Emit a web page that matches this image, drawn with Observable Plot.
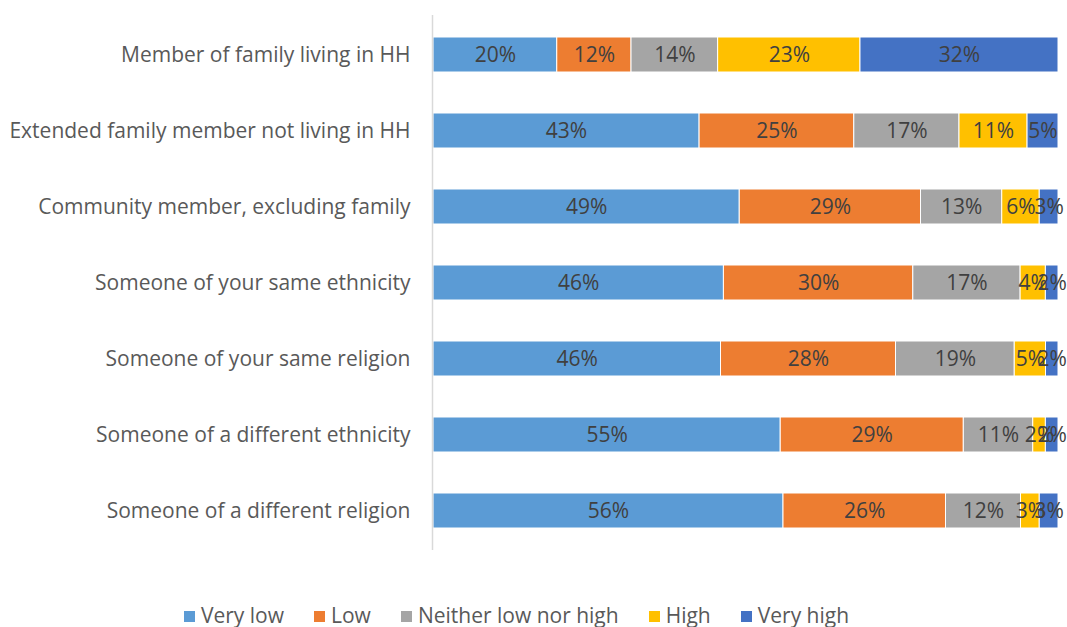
<!DOCTYPE html>
<html>
<head>
<meta charset="utf-8">
<script src="https://cdn.jsdelivr.net/npm/d3@7"></script>
<script src="https://cdn.jsdelivr.net/npm/@observablehq/plot@0.6"></script>
<style>
  body { margin: 0; background: #fff; font-family: "Open Sans", sans-serif; overflow: hidden; }
  #legend { display: flex; justify-content: center; gap: 30px; font-size: 21px; color: #595959; margin-left: -34px; line-height: 26px; margin-top: 2px; }
  #legend span.sw { display: inline-block; width: 11px; height: 11px; margin-right: 6px; vertical-align: 1px; }
</style>
</head>
<body>
<div id="chart"></div>
<div id="legend"></div>
<script>
const categories = [
  "Member of family living in HH",
  "Extended family member not living in HH",
  "Community member, excluding family",
  "Someone of your same ethnicity",
  "Someone of your same religion",
  "Someone of a different ethnicity",
  "Someone of a different religion"
];
const levels = ["Very low", "Low", "Neither low nor high", "High", "Very high"];
const colors = ["#5B9BD5", "#ED7D31", "#A5A5A5", "#FFC000", "#4472C4"];
const veryLow = [20, 43, 49, 46, 46, 55, 56];
const low = [12, 25, 29, 30, 28, 29, 26];
const neither = [14, 17, 13, 17, 19, 11, 12];
const high = [23, 11, 6, 4, 5, 2, 3];
const veryHigh = [32, 5, 3, 2, 2, 2, 3];

const series = [veryLow, low, neither, high, veryHigh];
const data = [];
categories.forEach((c, i) => {
  levels.forEach((l, j) => data.push({cat: c, level: l, value: series[j][i]}));
});

const chart = Plot.plot({
  width: 1067,
  height: 600,
  marginLeft: 433,
  marginRight: 9,
  marginTop: 15,
  marginBottom: 50,
  style: {fontFamily: "Open Sans, sans-serif", fontSize: "21px", color: "#595959", background: "#fff"},
  x: {axis: null, domain: [0, 1]},
  y: {domain: categories, paddingInner: 0.54, paddingOuter: 0.27, label: null, tickSize: 0, tickPadding: 23},
  color: {domain: levels, range: colors},
  marks: [
    Plot.barX(data, Plot.stackX({x: "value", y: "cat", z: "level", fill: "level", offset: "normalize", stroke: "white", strokeWidth: 1})),
    Plot.text(data, Plot.stackX({x: "value", y: "cat", z: "level", offset: "normalize", text: d => d.value + "%", fill: "#404040", fontSize: 21})),
    Plot.ruleX([0], {stroke: "#d9d9d9", strokeWidth: 1.5, dx: -1})
  ]
});
document.getElementById("chart").appendChild(chart);

const lg = document.getElementById("legend");
levels.forEach((l, j) => {
  const item = document.createElement("div");
  item.innerHTML = `<span class="sw" style="background:${colors[j]}"></span>${l}`;
  lg.appendChild(item);
});
</script>
</body>
</html>
